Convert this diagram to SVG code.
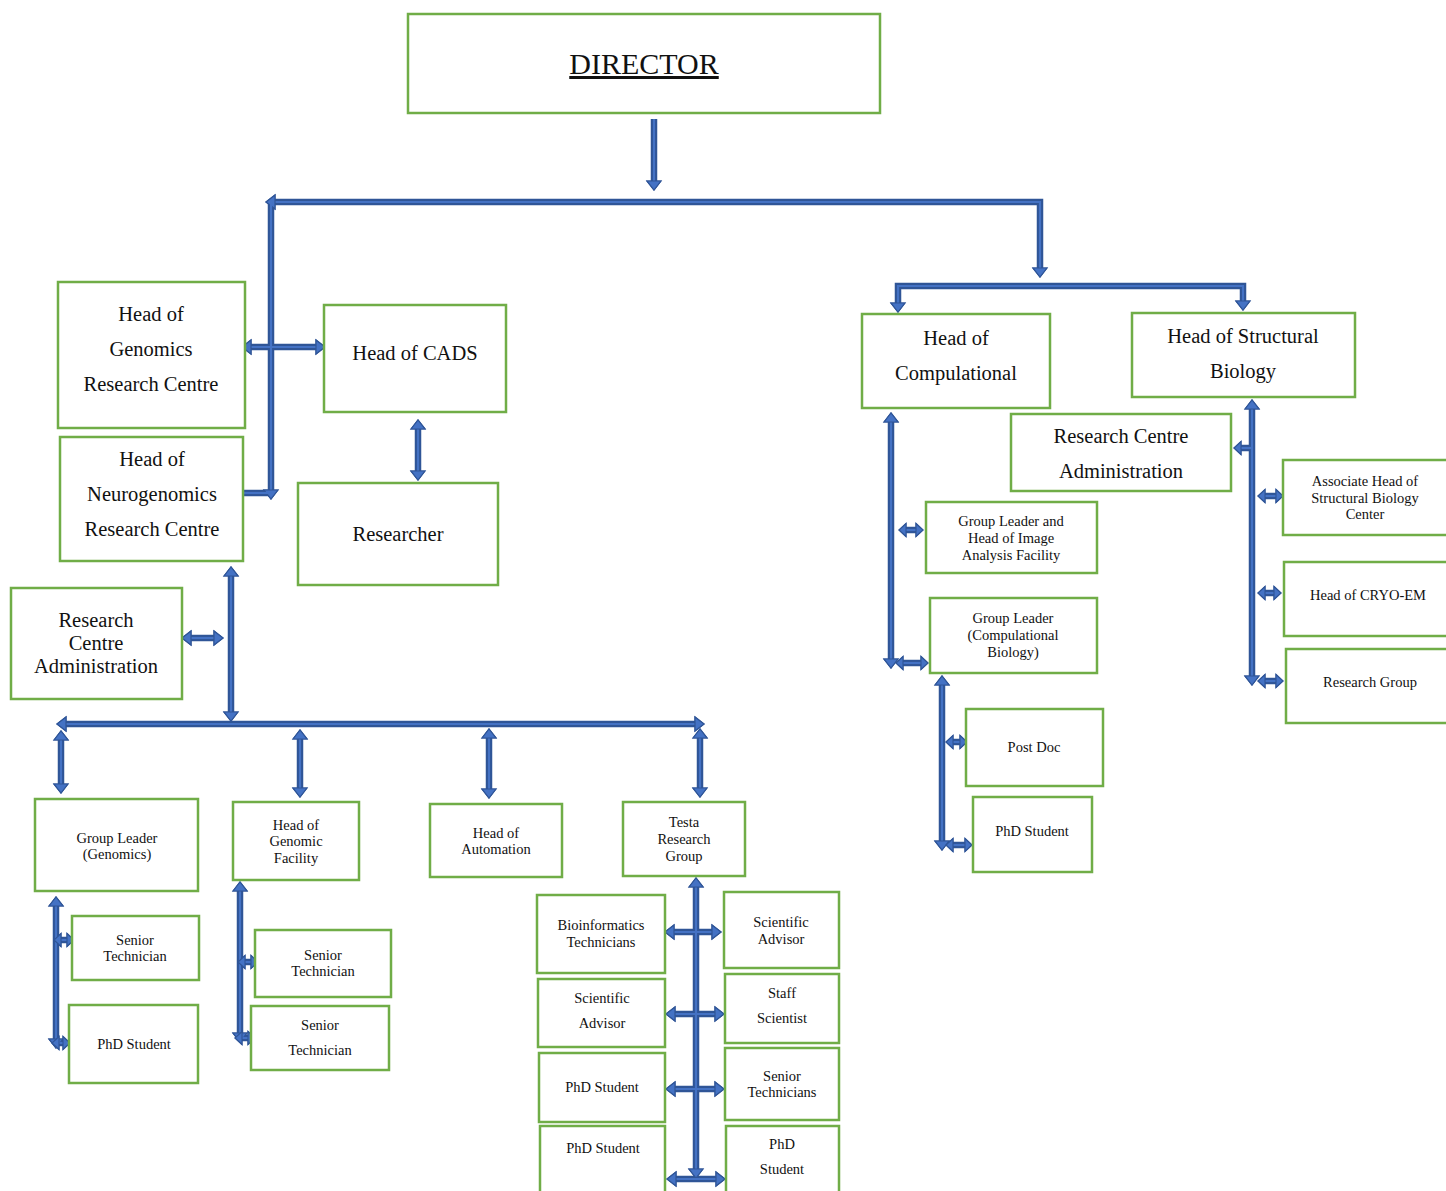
<svg xmlns="http://www.w3.org/2000/svg" xmlns:xlink="http://www.w3.org/1999/xlink" width="1446" height="1191" viewBox="0 0 1446 1191">
<style>
.b{fill:#fff;stroke:#70AD47;stroke-width:2.5}
.t{font-family:"Liberation Serif","Times New Roman",serif;fill:#111;text-anchor:middle}
.L{font-size:20.5px}
.S{font-size:14.5px}
.D{font-size:30px;text-decoration:underline}
.cn{fill:none;stroke-linejoin:miter}
</style>
<defs>
<marker id="ah" markerUnits="userSpaceOnUse" markerWidth="12" markerHeight="18" viewBox="-1 -9 12 18" refX="0" refY="0" orient="auto-start-reverse" overflow="visible">
<path d="M0,-7 L9,0 L0,7 Z" fill="#4472C4" stroke="#2F5597" stroke-width="1.2"/>
</marker>
<marker id="as" markerUnits="userSpaceOnUse" markerWidth="10" markerHeight="16" viewBox="-1 -8 10 16" refX="0" refY="0" orient="auto-start-reverse" overflow="visible">
<path d="M0,-6.5 L7,0 L0,6.5 Z" fill="#4472C4" stroke="#2F5597" stroke-width="1.1"/>
</marker>
</defs>
<rect width="1446" height="1191" fill="#fff"/>

<g id="connectors">
<g stroke="#2F5597" stroke-width="6.5" class="cn">
<g id="cl">
<path d="M654,119 V181" marker-end="url(#ah)"/>
<path d="M275,202 H1040 V268" marker-start="url(#ah)" marker-end="url(#ah)"/>
<path d="M271,202 V490" marker-end="url(#ah)"/>
<path d="M244,493 H268"/>
<path d="M251,347 H316" marker-start="url(#ah)" marker-end="url(#ah)"/>
<path d="M418,429 V471" marker-start="url(#ah)" marker-end="url(#ah)"/>
<path d="M231,576 V712" marker-start="url(#ah)" marker-end="url(#ah)"/>
<path d="M191,638 H214" marker-start="url(#ah)" marker-end="url(#ah)"/>
<path d="M66,724 H695" marker-start="url(#ah)" marker-end="url(#ah)"/>
<path d="M61,740 V784" marker-start="url(#ah)" marker-end="url(#ah)"/>
<path d="M300,739 V788" marker-start="url(#ah)" marker-end="url(#ah)"/>
<path d="M489,738 V789" marker-start="url(#ah)" marker-end="url(#ah)"/>
<path d="M700,738 V788" marker-start="url(#ah)" marker-end="url(#ah)"/>
<path d="M56,906 V1039" marker-start="url(#ah)" marker-end="url(#ah)"/>
<path d="M61,940 H67" marker-start="url(#as)" marker-end="url(#as)"/>
<path d="M59,1043 H63" marker-start="url(#as)" marker-end="url(#as)"/>
<path d="M240,891 V1033" marker-start="url(#ah)" marker-end="url(#ah)"/>
<path d="M245,962 H251" marker-start="url(#as)" marker-end="url(#as)"/>
<path d="M242,1038 H248" marker-start="url(#as)" marker-end="url(#as)"/>
<path d="M696,887 V1169" marker-start="url(#ah)" marker-end="url(#ah)"/>
<path d="M674,932 H712" marker-start="url(#ah)" marker-end="url(#ah)"/>
<path d="M675,1014 H715" marker-start="url(#ah)" marker-end="url(#ah)"/>
<path d="M675,1089 H715" marker-start="url(#ah)" marker-end="url(#ah)"/>
<path d="M676,1179 H716" marker-start="url(#ah)" marker-end="url(#ah)"/>
<path d="M898,303 V286 H1243 V301" marker-start="url(#ah)" marker-end="url(#ah)"/>
<path d="M891,422 V659" marker-start="url(#ah)" marker-end="url(#ah)"/>
<path d="M906,530 H916" marker-start="url(#as)" marker-end="url(#as)"/>
<path d="M903,663 H921" marker-start="url(#as)" marker-end="url(#as)"/>
<path d="M942,685 V841" marker-start="url(#ah)" marker-end="url(#ah)"/>
<path d="M953,742 H960" marker-start="url(#as)" marker-end="url(#as)"/>
<path d="M953,845 H965" marker-start="url(#as)" marker-end="url(#as)"/>
<path d="M1252,409 V676" marker-start="url(#ah)" marker-end="url(#ah)"/>
<path d="M1252,448 H1241" marker-end="url(#as)"/>
<path d="M1265,496 H1276" marker-start="url(#as)" marker-end="url(#as)"/>
<path d="M1265,593 H1274" marker-start="url(#as)" marker-end="url(#as)"/>
<path d="M1265,681 H1276" marker-start="url(#as)" marker-end="url(#as)"/>
</g>
</g>
<use xlink:href="#cl" href="#cl" stroke="#4472C4" stroke-width="2.2" class="cn"/>
</g>

<g id="n-director"><rect class="b" x="408" y="14" width="472" height="99"/><text class="t D" x="644" y="74">DIRECTOR</text></g>
<g id="n-genomics"><rect class="b" x="58" y="282" width="187" height="146"/><text class="t L" x="151" y="321">Head of</text><text class="t L" x="151" y="356">Genomics</text><text class="t L" x="151" y="391">Research Centre</text></g>
<g id="n-cads"><rect class="b" x="324" y="305" width="182" height="107"/><text class="t L" x="415" y="360">Head of CADS</text></g>
<g id="n-researcher"><rect class="b" x="298" y="483" width="200" height="102"/><text class="t L" x="398" y="541">Researcher</text></g>
<g id="n-neuro"><rect class="b" x="60" y="437" width="183" height="124"/><text class="t L" x="152" y="466">Head of</text><text class="t L" x="152" y="501">Neurogenomics</text><text class="t L" x="152" y="536">Research Centre</text></g>
<g id="n-admin-left"><rect class="b" x="11" y="588" width="171" height="111"/><text class="t L" x="96" y="627">Research</text><text class="t L" x="96" y="650">Centre</text><text class="t L" x="96" y="673">Administration</text></g>
<g id="n-gl-genomics"><rect class="b" x="35" y="799" width="163" height="92"/><text class="t S" x="117" y="843">Group Leader</text><text class="t S" x="117" y="859">(Genomics)</text></g>
<g id="n-genomic-facility"><rect class="b" x="233" y="802" width="126" height="78"/><text class="t S" x="296" y="830">Head of</text><text class="t S" x="296" y="846">Genomic</text><text class="t S" x="296" y="863">Facility</text></g>
<g id="n-automation"><rect class="b" x="430" y="804" width="132" height="73"/><text class="t S" x="496" y="838">Head of</text><text class="t S" x="496" y="854">Automation</text></g>
<g id="n-testa"><rect class="b" x="623" y="802" width="122" height="74"/><text class="t S" x="684" y="827">Testa</text><text class="t S" x="684" y="844">Research</text><text class="t S" x="684" y="861">Group</text></g>
<g id="n-st1"><rect class="b" x="72" y="916" width="127" height="64"/><text class="t S" x="135" y="945">Senior</text><text class="t S" x="135" y="961">Technician</text></g>
<g id="n-phd1"><rect class="b" x="69" y="1005" width="129" height="78"/><text class="t S" x="134" y="1049">PhD Student</text></g>
<g id="n-st2"><rect class="b" x="255" y="930" width="136" height="67"/><text class="t S" x="323" y="960">Senior</text><text class="t S" x="323" y="976">Technician</text></g>
<g id="n-st3"><rect class="b" x="251" y="1006" width="138" height="64"/><text class="t S" x="320" y="1030">Senior</text><text class="t S" x="320" y="1055">Technician</text></g>
<g id="n-bioinf"><rect class="b" x="537" y="895" width="128" height="78"/><text class="t S" x="601" y="930">Bioinformatics</text><text class="t S" x="601" y="947">Technicians</text></g>
<g id="n-sa-left"><rect class="b" x="538" y="979" width="127" height="68"/><text class="t S" x="602" y="1003">Scientific</text><text class="t S" x="602" y="1028">Advisor</text></g>
<g id="n-phd-l1"><rect class="b" x="539" y="1053" width="126" height="69"/><text class="t S" x="602" y="1092">PhD Student</text></g>
<g id="n-phd-l2"><rect class="b" x="540" y="1126" width="125" height="70"/><text class="t S" x="603" y="1153">PhD Student</text></g>
<g id="n-sa-right"><rect class="b" x="724" y="892" width="115" height="76"/><text class="t S" x="781" y="927">Scientific</text><text class="t S" x="781" y="944">Advisor</text></g>
<g id="n-staff"><rect class="b" x="725" y="974" width="114" height="69"/><text class="t S" x="782" y="998">Staff</text><text class="t S" x="782" y="1023">Scientist</text></g>
<g id="n-sen-techs"><rect class="b" x="725" y="1048" width="114" height="72"/><text class="t S" x="782" y="1081">Senior</text><text class="t S" x="782" y="1097">Technicians</text></g>
<g id="n-phd-r"><rect class="b" x="726" y="1126" width="113" height="70"/><text class="t S" x="782" y="1149">PhD</text><text class="t S" x="782" y="1174">Student</text></g>
<g id="n-compulational"><rect class="b" x="862" y="314" width="188" height="94"/><text class="t L" x="956" y="345">Head of</text><text class="t L" x="956" y="380">Compulational</text></g>
<g id="n-structural"><rect class="b" x="1132" y="313" width="223" height="84"/><text class="t L" x="1243" y="343">Head of Structural</text><text class="t L" x="1243" y="378">Biology</text></g>
<g id="n-admin-right"><rect class="b" x="1011" y="414" width="220" height="77"/><text class="t L" x="1121" y="443">Research Centre</text><text class="t L" x="1121" y="478">Administration</text></g>
<g id="n-image"><rect class="b" x="926" y="502" width="171" height="71"/><text class="t S" x="1011" y="526">Group Leader and</text><text class="t S" x="1011" y="543">Head of Image</text><text class="t S" x="1011" y="560">Analysis Facility</text></g>
<g id="n-gl-comp"><rect class="b" x="930" y="598" width="167" height="75"/><text class="t S" x="1013" y="623">Group Leader</text><text class="t S" x="1013" y="640">(Compulational</text><text class="t S" x="1013" y="657">Biology)</text></g>
<g id="n-postdoc"><rect class="b" x="966" y="709" width="137" height="77"/><text class="t S" x="1034" y="752">Post Doc</text></g>
<g id="n-phd-comp"><rect class="b" x="973" y="797" width="119" height="75"/><text class="t S" x="1032" y="836">PhD Student</text></g>
<g id="n-assoc"><rect class="b" x="1283" y="460" width="168" height="75"/><text class="t S" x="1365" y="486">Associate Head of</text><text class="t S" x="1365" y="503">Structural Biology</text><text class="t S" x="1365" y="519">Center</text></g>
<g id="n-cryo"><rect class="b" x="1284" y="562" width="167" height="74"/><text class="t S" x="1368" y="600">Head of CRYO-EM</text></g>
<g id="n-rg"><rect class="b" x="1286" y="649" width="165" height="74"/><text class="t S" x="1370" y="687">Research Group</text></g>
</svg>
